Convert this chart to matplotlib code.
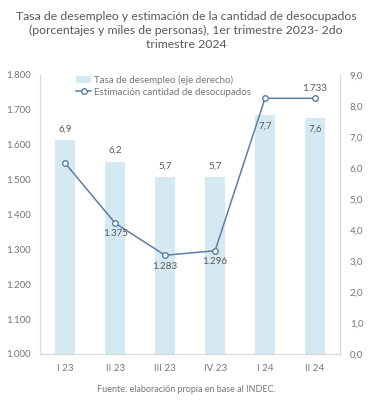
import matplotlib.pyplot as plt
import numpy as np

plt.rcParams['font.family'] = ['Lato', 'DejaVu Sans']

trimestres = ['I 23', 'II 23', 'III 23', 'IV 23', 'I 24', 'II 24']
tasa = [6.9, 6.2, 5.7, 5.7, 7.7, 7.6]
desocupados = [1547, 1375, 1283, 1296, 1733, 1733]
# which line points carry a label and where
etiqueta_linea = [None, 'below', 'below', 'below', None, 'above']
# bar labels: outside end or inside end
etiqueta_barra = ['out', 'out', 'out', 'out', 'in', 'in']

def miles(v):
    return '{:,.0f}'.format(v).replace(',', '.')

bar_color = '#d5e9f2'
line_color = '#5a7fa6'
text_color = '#595959'
tick_color = '#767676'
grid_color = '#d9d9d9'

fig = plt.figure(figsize=(3.72, 4.05), dpi=100)
ax = fig.add_axes([0.108, 0.126, 0.806, 0.689])
ax2 = ax.twinx()

x = np.arange(len(trimestres))

# bars on right axis
ax2.bar(x, tasa, width=0.4, color=bar_color, label='Tasa de desempleo (eje derecho)', zorder=1)
for xi, v, pos in zip(x, tasa, etiqueta_barra):
    txt = '{:.1f}'.format(v).replace('.', ',')
    if pos == 'out':
        ax2.text(xi, v + 0.22, txt, ha='center', va='bottom', fontsize=7, color=text_color)
    else:
        ax2.text(xi, v - 0.22, txt, ha='center', va='top', fontsize=7, color=text_color)
ax2.set_ylim(0, 9)
ax2.set_yticks(np.arange(0, 9.1, 1))
ax2.set_yticklabels(['{:.1f}'.format(t).replace('.', ',') for t in np.arange(0, 9.1, 1)])

# line on left axis, drawn above bars
ax.set_zorder(ax2.get_zorder() + 1)
ax.patch.set_visible(False)
ax.plot(x, desocupados, color=line_color, lw=1.1, marker='o', ms=4, mfc='white',
        mec=line_color, mew=1.0, label='Estimación cantidad de desocupados', zorder=3)
for xi, v, pos in zip(x, desocupados, etiqueta_linea):
    if pos == 'below':
        ax.text(xi, v - 18, miles(v), ha='center', va='top', fontsize=7, color=text_color)
    elif pos == 'above':
        ax.text(xi, v + 16, miles(v), ha='center', va='bottom', fontsize=7, color=text_color)
ax.set_ylim(1000, 1800)
ax.set_yticks(np.arange(1000, 1801, 100))
ax.set_yticklabels([miles(t) for t in np.arange(1000, 1801, 100)])
ax.set_xlim(-0.5, len(trimestres) - 0.5)
ax.set_xticks(x)
ax.set_xticklabels(trimestres)

for a in (ax, ax2):
    a.tick_params(length=0, labelsize=7, colors=tick_color, pad=7)
    for s in a.spines.values():
        s.set_color(grid_color)
    a.spines['top'].set_visible(False)

# legend
h1, l1 = ax2.get_legend_handles_labels()
h2, l2 = ax.get_legend_handles_labels()
leg = ax.legend(h1 + h2, l1 + l2, loc='upper left', bbox_to_anchor=(0.09, 1.03), frameon=False,
                fontsize=7, handlelength=1.6, handletextpad=0.3, labelspacing=0.3)
for t in leg.get_texts():
    t.set_color(tick_color)

fig.text(0.5, 0.972, 'Tasa de desempleo y estimación de la cantidad de desocupados\n'
         '(porcentajes y miles de personas), 1er trimestre 2023- 2do\ntrimestre 2024',
         ha='center', va='top', fontsize=8.8, color=text_color, linespacing=1.3)
fig.text(0.5, 0.038, 'Fuente: elaboración propia en base al INDEC.', ha='center', va='center',
         fontsize=6.5, color=tick_color)

fig.savefig('out.png', dpi=100, facecolor='white')
